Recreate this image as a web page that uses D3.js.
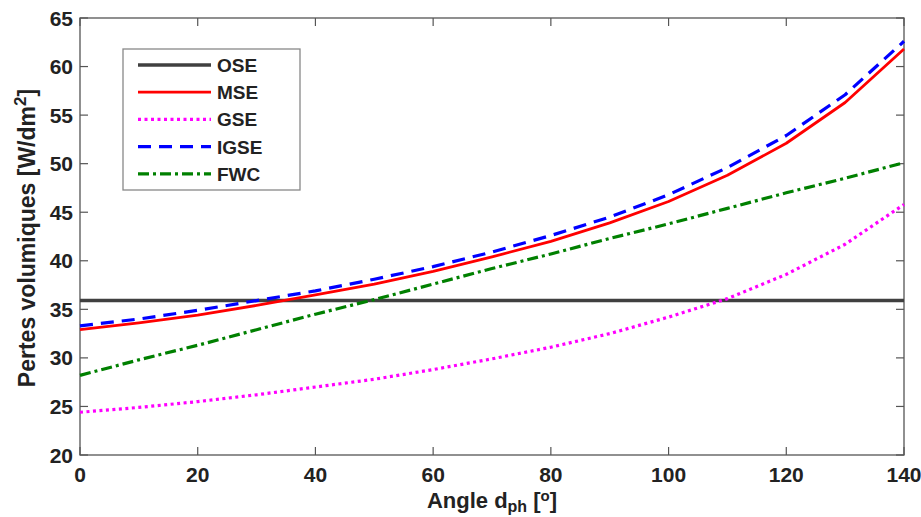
<!DOCTYPE html>
<html>
<head>
<meta charset="utf-8">
<script src="https://cdn.jsdelivr.net/npm/d3@7"></script>
<style>
  html, body { margin: 0; padding: 0; background: #fff; }
  svg text { font-family: "Liberation Sans", Arial, sans-serif; font-weight: bold; fill: #222; }
</style>
</head>
<body>
<svg id="chart" width="921" height="517"></svg>
<script>
const angles = [0, 10, 20, 30, 40, 50, 60, 70, 80, 90, 100, 110, 120, 130, 140];
const OSE  = [35.9, 35.9, 35.9, 35.9, 35.9, 35.9, 35.9, 35.9, 35.9, 35.9, 35.9, 35.9, 35.9, 35.9, 35.9];
const MSE  = [32.9, 33.6, 34.4, 35.4, 36.5, 37.6, 38.9, 40.4, 42.0, 43.9, 46.1, 48.8, 52.1, 56.3, 61.8];
const GSE  = [24.4, 24.9, 25.5, 26.2, 27.0, 27.8, 28.8, 29.9, 31.1, 32.5, 34.2, 36.1, 38.6, 41.7, 45.8];
const IGSE = [33.3, 34.0, 34.9, 35.9, 36.9, 38.1, 39.4, 40.9, 42.6, 44.5, 46.8, 49.6, 52.9, 57.1, 62.6];
const FWC  = [28.2, 29.8, 31.3, 32.9, 34.5, 36.0, 37.6, 39.2, 40.7, 42.3, 43.8, 45.4, 47.0, 48.5, 50.1];
const xTicks = [0, 20, 40, 60, 80, 100, 120, 140];
const yTicks = [20, 25, 30, 35, 40, 45, 50, 55, 60, 65];
const seriesNames = ["OSE", "MSE", "GSE", "IGSE", "FWC"];

const series = [
  { name: "OSE",  values: OSE,  color: "#404040", width: 3.5, dash: null },
  { name: "MSE",  values: MSE,  color: "#ff0000", width: 2.8, dash: null },
  { name: "GSE",  values: GSE,  color: "#ff00ff", width: 3.2, dash: "3,3.5" },
  { name: "IGSE", values: IGSE, color: "#0000ff", width: 3.2, dash: "13,8" },
  { name: "FWC",  values: FWC,  color: "#008000", width: 3.2, dash: "11,4,3,4" }
];

const svg = d3.select("#chart");
const L = 80, R = 904, T = 18, B = 455;
const x = d3.scaleLinear().domain([0, 140]).range([L, R]);
const y = d3.scaleLinear().domain([20, 65]).range([B, T]);

const axisColor = "#555";

svg.append("rect").attr("x", L).attr("y", T).attr("width", R - L).attr("height", B - T)
  .attr("fill", "none").attr("stroke", axisColor).attr("stroke-width", 1.3);

const tl = 8;
xTicks.forEach(t => {
  svg.append("line").attr("x1", x(t)).attr("x2", x(t)).attr("y1", B).attr("y2", B - tl).attr("stroke", axisColor).attr("stroke-width", 1.2);
  svg.append("line").attr("x1", x(t)).attr("x2", x(t)).attr("y1", T).attr("y2", T + tl).attr("stroke", axisColor).attr("stroke-width", 1.2);
});
yTicks.forEach(t => {
  svg.append("line").attr("x1", L).attr("x2", L + tl).attr("y1", y(t)).attr("y2", y(t)).attr("stroke", axisColor).attr("stroke-width", 1.2);
  svg.append("line").attr("x1", R).attr("x2", R - tl).attr("y1", y(t)).attr("y2", y(t)).attr("stroke", axisColor).attr("stroke-width", 1.2);
});

svg.selectAll(".xt").data(xTicks).enter().append("text")
  .attr("x", d => x(d)).attr("y", 482).attr("text-anchor", "middle")
  .attr("font-size", 21).text(d => d);
svg.selectAll(".yt").data(yTicks).enter().append("text")
  .attr("x", 73).attr("y", d => y(d) + 7.5).attr("text-anchor", "end")
  .attr("font-size", 21).text(d => d);

const line = d3.line().x((d, i) => x(angles[i])).y(d => y(d));
series.forEach(s => {
  svg.append("path").datum(s.values).attr("d", line)
    .attr("fill", "none").attr("stroke", s.color).attr("stroke-width", s.width)
    .attr("stroke-dasharray", s.dash).attr("stroke-linejoin", "round");
});

const lg = svg.append("g");
lg.append("rect").attr("x", 123).attr("y", 49).attr("width", 177).attr("height", 141)
  .attr("fill", "#fff").attr("stroke", "#888").attr("stroke-width", 1.3);
series.forEach((s, i) => {
  const yy = 65 + i * 27.2;
  lg.append("line").attr("x1", 138).attr("x2", 211).attr("y1", yy).attr("y2", yy)
    .attr("stroke", s.color).attr("stroke-width", s.width).attr("stroke-dasharray", s.dash);
  lg.append("text").attr("x", 217).attr("y", yy + 7).attr("font-size", 19).text(seriesNames[i]);
});

const xl = svg.append("text").attr("x", 492).attr("y", 508).attr("text-anchor", "middle").attr("font-size", 22);
xl.append("tspan").text("Angle d");
xl.append("tspan").attr("font-size", 16).attr("dy", 4).text("ph");
xl.append("tspan").attr("dy", -4).text(" [");
xl.append("tspan").attr("font-size", 15).attr("dy", -7).text("o");
xl.append("tspan").attr("dy", 7).text("]");

const yl = svg.append("text").attr("transform", "translate(35,238) rotate(-90)")
  .attr("text-anchor", "middle").attr("font-size", 23);
yl.append("tspan").text("Pertes volumiques [W/dm");
yl.append("tspan").attr("font-size", 17).attr("dy", -9).text("2");
yl.append("tspan").attr("dy", 9).text("]");
</script>
</body>
</html>
